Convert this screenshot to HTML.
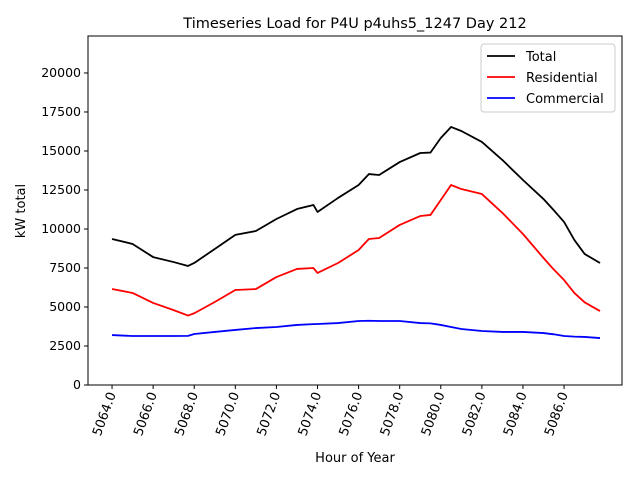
<!DOCTYPE html>
<html><head><meta charset="utf-8"><style>body{margin:0;background:#fff}svg{font-family:"DejaVu Sans","Liberation Sans",sans-serif}</style></head>
<body>
<svg id="c" width="640" height="480"></svg>
<script>
const hours=[5064,5065,5066,5067,5067.7,5068,5069,5070,5071,5072,5073,5073.8,5074,5075,5076,5076.5,5077,5078,5079,5079.5,5080,5080.5,5081,5082,5083,5084,5085,5085.5,5086,5086.5,5087,5087.75];
const total=[9360,9040,8200,7880,7630,7820,8720,9620,9870,10640,11280,11540,11090,11990,12820,13520,13460,14290,14870,14900,15830,16540,16280,15580,14420,13140,11920,11200,10450,9300,8400,7820];
const residential=[6150,5900,5260,4800,4450,4600,5320,6090,6150,6920,7440,7500,7180,7820,8650,9360,9420,10260,10830,10900,11860,12820,12560,12240,11030,9680,8140,7400,6730,5900,5300,4740];
const commercial=[3200,3140,3140,3140,3150,3270,3400,3530,3650,3720,3850,3900,3910,3970,4100,4120,4100,4100,3970,3950,3850,3720,3590,3460,3400,3400,3330,3250,3140,3100,3080,3010];
const xTicks=[5064,5066,5068,5070,5072,5074,5076,5078,5080,5082,5084,5086];
const yTicks=[0,2500,5000,7500,10000,12500,15000,17500,20000];
const L=88,R=622,T=36,B=385,x0=5062.83,x1=5088.82,y1=22370;
const sx=v=>L+(v-x0)/(x1-x0)*(R-L), sy=v=>B-v/y1*(B-T);
const svg=document.getElementById('c');const NS='http://www.w3.org/2000/svg';
function mk(t,a,p){const e=document.createElementNS(NS,t);for(const k in a)e.setAttribute(k,a[k]);(p||svg).appendChild(e);return e;}
let e=mk('rect',{x:L,y:T,width:R-L,height:B-T,fill:'none',stroke:'#000','stroke-width':1});


xTicks.forEach(v=>{const x=sx(v);
 let t=mk('line',{x1:x,x2:x,y1:B,y2:B+4,stroke:'#000'});
 
 
 let l=mk('text',{x:0,y:0,'font-size':13,'text-anchor':'end',transform:`translate(${x+4},${B+9}) rotate(-70)`});
 l.textContent=v.toFixed(1);
 
 });
yTicks.forEach(v=>{const y=sy(v);
 let t=mk('line',{x1:L-4,x2:L,y1:y,y2:y,stroke:'#000'});
 
 
 let l=mk('text',{x:L-7,y:y+4,'font-size':12.5,'text-anchor':'end'});
 l.textContent=v;
 
 });
[[total,'#000','series-total'],[residential,'#f00','series-residential'],[commercial,'#00f','series-commercial']].forEach(([d,c,n])=>{
 let p=mk('polyline',{points:d.map((v,i)=>sx(hours[i])+','+sy(v)).join(' '),fill:'none',stroke:c,'stroke-width':1.8,'stroke-linejoin':'round'});
 
 });
let ti=mk('text',{x:355,y:28,'font-size':14.5,'text-anchor':'middle'});ti.textContent='Timeseries Load for P4U p4uhs5_1247  Day 212';


let xl=mk('text',{x:355,y:462,'font-size':13,'text-anchor':'middle'});xl.textContent='Hour of Year';


let yl=mk('text',{x:0,y:0,'font-size':13,'text-anchor':'middle',transform:'translate(25,211) rotate(-90)'});yl.textContent='kW total';


let lg=mk('g',{});


mk('rect',{x:481,y:44,width:134,height:68,rx:3,fill:'#fff',stroke:'#ccc'},lg);
[['Total','#000'],['Residential','#f00'],['Commercial','#00f']].forEach(([n,c],i)=>{const y=56+i*21;
 mk('line',{x1:487,x2:515,y1:y,y2:y,stroke:c,'stroke-width':1.8},lg);
 let t=mk('text',{x:526,y:y+5,'font-size':13},lg);t.textContent=n;
 
 });
</script>
</body></html>
